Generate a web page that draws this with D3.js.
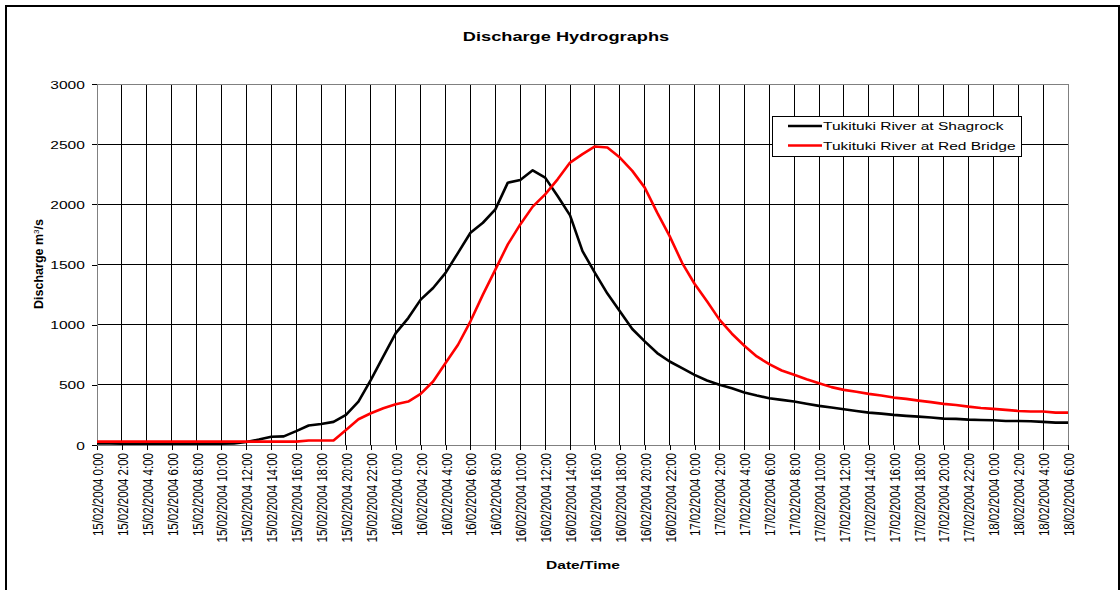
<!DOCTYPE html>
<meta charset="utf-8">
<style>
body { margin: 0; background: #fff; }
svg { display: block; font-family: 'Liberation Sans', Arial, sans-serif; }
</style>
<body>
<script src="https://cdn.jsdelivr.net/npm/d3@7/dist/d3.min.js"></script>
<script>
var width = 1120
var height = 590
// the original picture is stretched sideways, so horizontal text is too
var stretch = 1.35

var tickLabels = [
    '15/02/2004 0:00', '15/02/2004 2:00', '15/02/2004 4:00', '15/02/2004 6:00',
    '15/02/2004 8:00', '15/02/2004 10:00', '15/02/2004 12:00', '15/02/2004 14:00',
    '15/02/2004 16:00', '15/02/2004 18:00', '15/02/2004 20:00', '15/02/2004 22:00',
    '16/02/2004 0:00', '16/02/2004 2:00', '16/02/2004 4:00', '16/02/2004 6:00',
    '16/02/2004 8:00', '16/02/2004 10:00', '16/02/2004 12:00', '16/02/2004 14:00',
    '16/02/2004 16:00', '16/02/2004 18:00', '16/02/2004 20:00', '16/02/2004 22:00',
    '17/02/2004 0:00', '17/02/2004 2:00', '17/02/2004 4:00', '17/02/2004 6:00',
    '17/02/2004 8:00', '17/02/2004 10:00', '17/02/2004 12:00', '17/02/2004 14:00',
    '17/02/2004 16:00', '17/02/2004 18:00', '17/02/2004 20:00', '17/02/2004 22:00',
    '18/02/2004 0:00', '18/02/2004 2:00', '18/02/2004 4:00', '18/02/2004 6:00'
]

// hourly discharge (m3/s), 15/02/2004 0:00 to 18/02/2004 6:00
var shagrock = [
    12, 12, 10, 10, 10, 10, 10, 10, 10, 10, 10, 12,
    25, 45, 68, 72, 115, 162, 175, 192, 250, 361, 542, 736,
    930, 1055, 1208, 1305, 1430, 1597, 1764, 1847, 1958, 2180, 2203, 2283,
    2222, 2069, 1908, 1611, 1430, 1258, 1111, 964, 861, 764, 694, 639,
    583, 536, 500, 472, 436, 411, 389, 375, 361, 342, 325, 311,
    297, 283, 269, 261, 250, 242, 236, 228, 219, 217, 211, 208,
    206, 200, 200, 197, 192, 186, 186
]

var redBridge = [
    28, 28, 28, 28, 28, 28, 28, 28, 28, 28, 28, 28,
    28, 28, 28, 28, 28, 38, 38, 38, 125, 214, 264, 305,
    339, 361, 425, 528, 681, 833, 1028, 1250, 1458, 1667, 1833, 1981,
    2083, 2208, 2347, 2417, 2481, 2472, 2389, 2278, 2139, 1931, 1736, 1514,
    1340, 1194, 1042, 925, 825, 736, 672, 619, 583, 547, 514, 481,
    458, 442, 425, 411, 394, 383, 369, 356, 342, 333, 319, 308,
    300, 292, 283, 278, 278, 269, 269
]

var series = [
    { name: 'Tukituki River at Shagrock', color: '#000', values: shagrock },
    { name: 'Tukituki River at Red Bridge', color: '#ff0000', values: redBridge }
]

var x = d3.scaleLinear()
    .domain([0, shagrock.length - 1])
    .range([97, 1068])

var y = d3.scaleLinear()
    .domain([0, 3000])
    .range([445, 84])

var tickHours = tickLabels.map(function (d, i) { return i * 2 })

var svg = d3.select('body')
    .append('svg')
    .attr('width', width)
    .attr('height', height)

svg.append('rect')
    .attr('x', 6)
    .attr('y', 6)
    .attr('width', 1113)
    .attr('height', 620)
    .attr('fill', '#fff')
    .attr('stroke', '#000')
    .attr('stroke-width', 2)

// grid
svg.append('g')
    .selectAll('line')
    .data(tickHours.slice(1, -1))
    .enter().append('line')
    .attr('x1', function (d) { return x(d) })
    .attr('x2', function (d) { return x(d) })
    .attr('y1', y(0))
    .attr('y2', y(3000))
    .attr('stroke', '#000')
    .attr('shape-rendering', 'crispEdges')

svg.append('g')
    .selectAll('line')
    .data(y.ticks(6).slice(1, -1))
    .enter().append('line')
    .attr('x1', x.range()[0])
    .attr('x2', x.range()[1])
    .attr('y1', function (d) { return y(d) })
    .attr('y2', function (d) { return y(d) })
    .attr('stroke', '#000')
    .attr('shape-rendering', 'crispEdges')

// plot area border, top and right
svg.append('path')
    .attr('d', 'M' + x.range()[0] + ',' + y(3000) + 'H' + x.range()[1] + 'V' + y(0))
    .attr('fill', 'none')
    .attr('stroke', '#808080')
    .attr('shape-rendering', 'crispEdges')

// axes
var xAxis = svg.append('g')
    .attr('transform', 'translate(0,' + y(0) + ')')
    .call(d3.axisBottom(x)
        .tickValues(tickHours)
        .tickSize(5)
        .tickSizeOuter(0)
        .tickFormat(function (d) { return tickLabels[d / 2] }))

xAxis.select('.domain').attr('stroke', '#808080').attr('shape-rendering', 'crispEdges')
xAxis.selectAll('.tick line').attr('stroke', '#000').attr('shape-rendering', 'crispEdges')
xAxis.selectAll('.tick text')
    .attr('font-family', 'Liberation Sans, Arial, sans-serif')
    .attr('font-size', '11.5px')
    .attr('fill', '#000')
    .attr('text-anchor', 'end')
    .attr('transform', 'scale(' + stretch + ',1) rotate(-90)')
    .attr('x', -8)
    .attr('y', 0)
    .attr('dy', '0.35em')

var yAxis = svg.append('g')
    .attr('transform', 'translate(' + x.range()[0] + ',0)')
    .call(d3.axisLeft(y)
        .ticks(6)
        .tickSize(5)
        .tickSizeOuter(0)
        .tickFormat(d3.format('d')))

yAxis.select('.domain').attr('stroke', '#808080').attr('shape-rendering', 'crispEdges')
yAxis.selectAll('.tick line').attr('stroke', '#000').attr('shape-rendering', 'crispEdges')
yAxis.selectAll('.tick text')
    .attr('font-family', 'Liberation Sans, Arial, sans-serif')
    .attr('font-size', '11.5px')
    .attr('fill', '#000')
    .attr('x', -9)
    .attr('dy', '0.35em')
    .attr('transform', 'scale(' + stretch + ',1)')

// lines
var line = d3.line()
    .x(function (d, i) { return x(i) })
    .y(function (d) { return y(d) })

svg.append('g')
    .selectAll('path')
    .data(series)
    .enter().append('path')
    .attr('d', function (d) { return line(d.values) })
    .attr('fill', 'none')
    .attr('stroke', function (d) { return d.color })
    .attr('stroke-width', 2.6)
    .attr('stroke-linejoin', 'round')

// titles
svg.append('text')
    .attr('transform', 'translate(566,41) scale(' + stretch + ',1)')
    .attr('text-anchor', 'middle')
    .attr('font-size', '13.5px')
    .attr('font-weight', 'bold')
    .text('Discharge Hydrographs')

svg.append('text')
    .attr('transform', 'translate(583,569) scale(' + stretch + ',1)')
    .attr('text-anchor', 'middle')
    .attr('font-size', '11.5px')
    .attr('font-weight', 'bold')
    .text('Date/Time')

var yTitle = svg.append('text')
    .attr('transform', 'translate(43,264) rotate(-90)')
    .attr('text-anchor', 'middle')
    .attr('font-size', '12.5px')
    .attr('font-weight', 'bold')

yTitle.append('tspan').text('Discharge m')
yTitle.append('tspan').attr('dy', -4).attr('font-size', '8px').attr('font-weight', 'normal').text('3')
yTitle.append('tspan').attr('dy', 4).text('/s')

// legend
var legend = svg.append('g')
    .attr('transform', 'translate(772,116)')

legend.append('rect')
    .attr('width', 249)
    .attr('height', 40)
    .attr('fill', '#fff')
    .attr('stroke', '#000')
    .attr('shape-rendering', 'crispEdges')

var entries = legend.selectAll('.entry')
    .data(series)
    .enter().append('g')
    .attr('class', 'entry')
    .attr('transform', function (d, i) { return 'translate(0,' + (10 + i * 19.5) + ')' })

entries.append('line')
    .attr('x1', 16)
    .attr('x2', 50)
    .attr('stroke', function (d) { return d.color })
    .attr('stroke-width', 2.6)

entries.append('text')
    .attr('transform', 'translate(51,0) scale(' + stretch + ',1)')
    .attr('dy', '0.35em')
    .attr('font-size', '11.5px')
    .text(function (d) { return d.name })
</script>
</body>
